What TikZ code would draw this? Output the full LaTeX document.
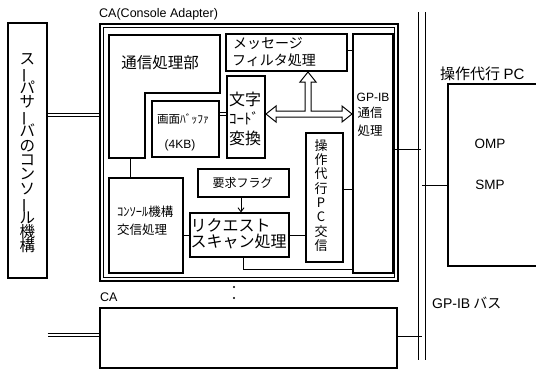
\documentclass[tikz,border=0pt]{standalone}
\usepackage{fontspec}
\usepackage{graphicx}
\setmainfont{Noto Sans CJK JP}
\newfontfamily\lat{Liberation Sans}
\usetikzlibrary{arrows.meta}
\newcommand\fs[2]{\fontsize{#1}{#2}\selectfont}
\newcommand\vbar{\smash{\rotatebox[origin=c]{90}{ー}}}
\begin{document}
\begin{tikzpicture}[x=1pt,y=-1pt,
  box/.style={draw, line width=1.05pt, inner sep=0pt},
  thickbox/.style={draw, line width=2.6pt, inner sep=0pt},
  conn/.style={line width=0.9pt},
  dbl/.style={double, double distance=2pt, line width=0.8pt},
  lbl/.style={inner sep=0pt},
]
\lineskiplimit=-100pt
\useasboundingbox[fill=white] (0,0) rectangle (536,370);

% left: super server console
\node[box, minimum width=39pt, minimum height=255pt] (sv) at (27.5,150.5) {};
\node[lbl, align=center, font={\fs{15.5}{14.4}}] (svt) at (27.5,153.5)
  {ス\\\vbar\\パ\\サ\\\vbar\\バ\\の\\コ\\ン\\ソ\\\vbar\\ル\\機\\構};

% CA outer
\node[draw, line width=2.4pt, minimum width=298pt, minimum height=257pt, inner sep=0pt] (ca) at (249,152.5) {};
\node[draw, line width=0.9pt, minimum width=291pt, minimum height=250pt, inner sep=0pt] (cain) at (249,152.5) {};
\node[lbl, anchor=west, font={\lat\fs{12.5}{12.5}}] (calbl) at (99,14) {CA(Console Adapter)};

% tsushin shoribu (L shape)
\draw[line width=1.05pt] (109,35) -- (220,35) -- (220,93) -- (145,93) -- (145,158) -- (109,158) -- cycle;
\node[lbl, font={\fs{15.5}{15.5}}] (tsu) at (160,63) {通信処理部};
\coordinate (tsub) at (130,158);

% message filter
\node[box, minimum width=121pt, minimum height=37pt] (msg) at (286.5,52.5) {};
\node[lbl, anchor=west, font={\fs{14}{14}}] (msg1) at (233,43) {メッセージ};
\node[lbl, anchor=west, font={\fs{14}{14}}] (msg2) at (232,60) {フィルタ処理};

% GP-IB
\node[box, minimum width=40pt, minimum height=239pt] (gpib) at (373,153.5) {};
\node[lbl, font={\lat\fs{12}{12}}] (gp1) at (373,97) {GP-IB};
\node[lbl, font={\fs{12.5}{12.5}}] (gp2) at (370,113) {通信};
\node[lbl, font={\fs{12.5}{12.5}}] (gp3) at (370,131) {処理};

% screen buffer
\node[thickbox, minimum width=67pt, minimum height=56pt] (buf) at (185.5,129) {};
\node[lbl, font={\fs{11.5}{11.5}}] (buf1) at (183,119) {画面ﾊﾞｯﾌｧ};
\node[lbl, font={\lat\fs{12}{12}}] (buf2) at (180,145) {(4KB)};

% moji code henkan
\node[box, minimum width=38pt, minimum height=82pt] (moji) at (246,117) {};
\node[lbl, anchor=west, font={\fs{16}{16}}] (mj1) at (229,99) {文字};
\node[lbl, anchor=west, font={\fs{15}{15}}] (mj2) at (229,118) {ｺｰﾄﾞ};
\node[lbl, anchor=west, font={\fs{16}{16}}] (mj3) at (229,138) {変換};

% sosa daiko PC koushin
\node[box, minimum width=37pt, minimum height=129pt] (sosa) at (324.5,197.5) {};
\node[lbl, align=center, font={\fs{13}{14.3}}] (sosat) at (321,195.5)
  {操\\作\\代\\行\\P\\C\\交\\信};

% request flag
\node[thickbox, minimum width=91pt, minimum height=28pt] (flag) at (243.5,183) {};
\node[lbl, font={\fs{12}{12}}] (flagt) at (242.5,183) {要求フラグ};

% request scan
\node[box, minimum width=99pt, minimum height=44pt] (req) at (239.5,235) {};
\node[lbl, anchor=west, font={\fs{16}{16}}] (req1) at (190.5,225) {リクエスト};
\node[lbl, anchor=west, font={\fs{16}{16}}] (req2) at (190.5,242) {スキャン処理};

% console koushin
\node[box, minimum width=74pt, minimum height=95pt] (con) at (146,225.5) {};
\node[lbl, anchor=west, font={\fs{12.5}{12.5}}] (con1) at (117,212) {ｺﾝｿｰﾙ機構};
\node[lbl, anchor=west, font={\fs{12.5}{12.5}}] (con2) at (117,230) {交信処理};

% lower CA
\node[draw, line width=1.3pt, minimum width=297pt, minimum height=60pt, inner sep=0pt] (ca2) at (248.5,338) {};
\node[lbl, anchor=west, font={\lat\fs{12.5}{12.5}}] (ca2l) at (100,297) {CA};
\fill (234,287) circle (1.2);
\fill (234,298) circle (1.2);

% operator PC
\draw[line width=1.05pt] (536,84) -- (448,84) -- (448,266) -- (536,266);
\coordinate (pcw) at (448,185);
\node[lbl, anchor=west, font={\fs{15}{15}}] (pcl) at (440,74) {操作代行 {\lat PC}};
\node[lbl, font={\lat\fs{13.5}{13.5}}] (omp) at (490,144) {OMP};
\node[lbl, font={\lat\fs{13.5}{13.5}}] (smp) at (490,185) {SMP};

% GP-IB bus
\coordinate (b1t) at (418,12); \coordinate (b1b) at (418,360);
\coordinate (b2t) at (425,12); \coordinate (b2b) at (425,360);
\draw[line width=1pt] (b1t) -- (b1b);
\draw[line width=1pt] (b2t) -- (b2b);
\node[lbl, anchor=west, font={\fs{14}{14}}] (busl) at (432,303) {{\lat GP-IB} バス};

% connectors
\coordinate (y115) at (0,115);
\draw[dbl] (sv.east |- y115) -- (ca.west |- y115);
\coordinate (y335) at (0,335);
\draw[dbl] (sv.east |- y335) -- (ca2.west |- y335);
\coordinate (y114) at (0,114);
\draw[dbl] (buf.east |- y114) -- (moji.west |- y114);
\coordinate (y50) at (0,50);
\draw[conn] (msg.east |- y50) -- (gpib.west |- y50);

% hollow T arrow
\draw[line width=1pt, fill=white, line join=miter]
  (266,114) -- (276,106) -- (276,111) -- (305,111) -- (305,82) -- (300,82) -- (308,72)
  -- (316,82) -- (311,82) -- (311,111) -- (342,111) -- (342,106) -- (352,114)
  -- (342,122) -- (342,117) -- (276,117) -- (276,122) -- cycle;

\draw[conn] (tsub) -- (tsub |- con.north);
\draw[conn] (con.east |- req.west) -- (req.west);
\coordinate (ax) at (241,0);
\draw[conn, -{Straight Barb[length=4pt,width=6pt]}] (flag.south -| ax) -- (req.north -| ax);
\draw[conn] (req.east) -- (sosa.west |- req.east);
\coordinate (y189) at (0,189);
\draw[conn] (sosa.east |- y189) -- (gpib.west |- y189);
\coordinate (x243) at (243,269);
\draw[conn] (req.south -| x243) -- (x243) -- (gpib.west |- x243);
\coordinate (g149) at (421,149);
\draw[conn] (gpib.east |- g149) -- (g149);
\coordinate (pcs) at (422,185);
\draw[conn] (pcs) -- (pcw);
\coordinate (c2b) at (422,336);
\draw[conn] (ca2.east |- c2b) -- (c2b);
\end{tikzpicture}
\end{document}
